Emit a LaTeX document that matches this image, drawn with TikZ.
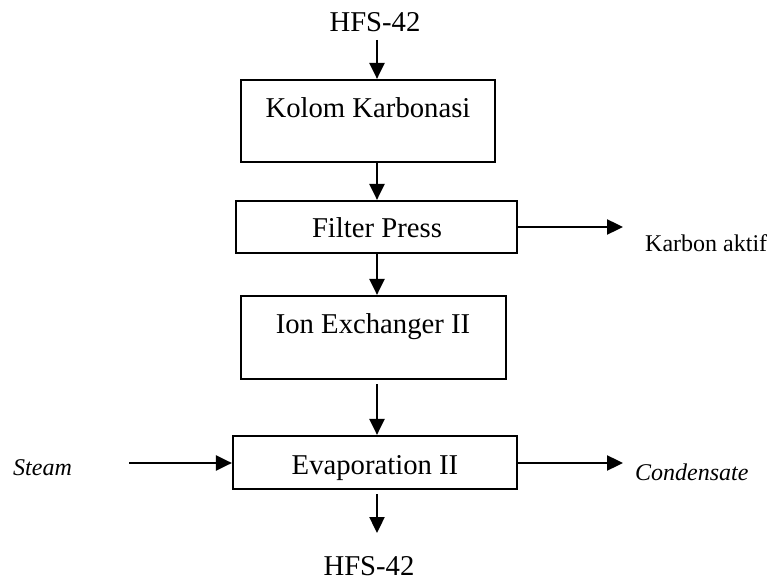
\documentclass[tikz,border=0pt]{standalone}
\usepackage{fontspec}
\setmainfont{Liberation Serif}
\usetikzlibrary{arrows.meta}
\begin{document}
\begin{tikzpicture}[x=1pt,y=-1pt,
  box/.style={draw,line width=2.2pt,rectangle,inner sep=0pt},
  big/.style={font=\fontsize{28.7}{34}\selectfont,inner sep=0pt,anchor=base},
  small/.style={font=\fontsize{24}{28}\selectfont,inner sep=0pt,anchor=base west},
  arr/.style={line width=2.4pt,-{Triangle[length=16pt,width=15pt]}}]
\useasboundingbox (0,0) rectangle (780,580);
\coordinate (col) at (377,0);
% boxes
\node[box,minimum width=254pt,minimum height=82pt] (b1) at (368,121) {};
\node[box,minimum width=281pt,minimum height=52pt] (b2) at (376.5,227) {};
\node[box,minimum width=265pt,minimum height=83pt] (b3) at (373.5,337.5) {};
\node[box,minimum width=284pt,minimum height=53pt] (b4) at (375,462.5) {};
% texts
\node[big] (hin) at (375,32) {HFS-42};
\node[big] (t1) at (368,118) {Kolom Karbonasi};
\node[big] (t2) at (377,238) {Filter Press};
\node[big] (t3) at (373,334) {Ion Exchanger II};
\node[big] (t4) at (375,474) {Evaporation II};
\node[big] (hout) at (369,575) {HFS-42};
\node[small] (ka) at (645,252) {Karbon aktif};
\node[small] (st) at (13,475) {\itshape Steam};
\node[small] (co) at (635,480) {\itshape Condensate};
% free ends
\coordinate (a0) at (377,40);
\coordinate (a5) at (377,533);
\coordinate (kaend) at (623,227);
\coordinate (ststart) at (129,463);
\coordinate (coend) at (623,463);
% connectors
\draw[arr] (a0) -- (b1.north -| col);
\draw[arr] (b1.south -| col) -- (b2.north -| col);
\draw[arr] (b2.south -| col) -- (b3.north -| col);
\draw[arr] ([yshift=-4pt]b3.south -| col) -- (b4.north -| col);
\draw[arr] ([yshift=-4pt]b4.south -| col) -- (a5);
\draw[arr] (b2.east |- kaend) -- (kaend);
\draw[arr] (ststart) -- (b4.west |- ststart);
\draw[arr] (b4.east |- coend) -- (coend);
\end{tikzpicture}
\end{document}
